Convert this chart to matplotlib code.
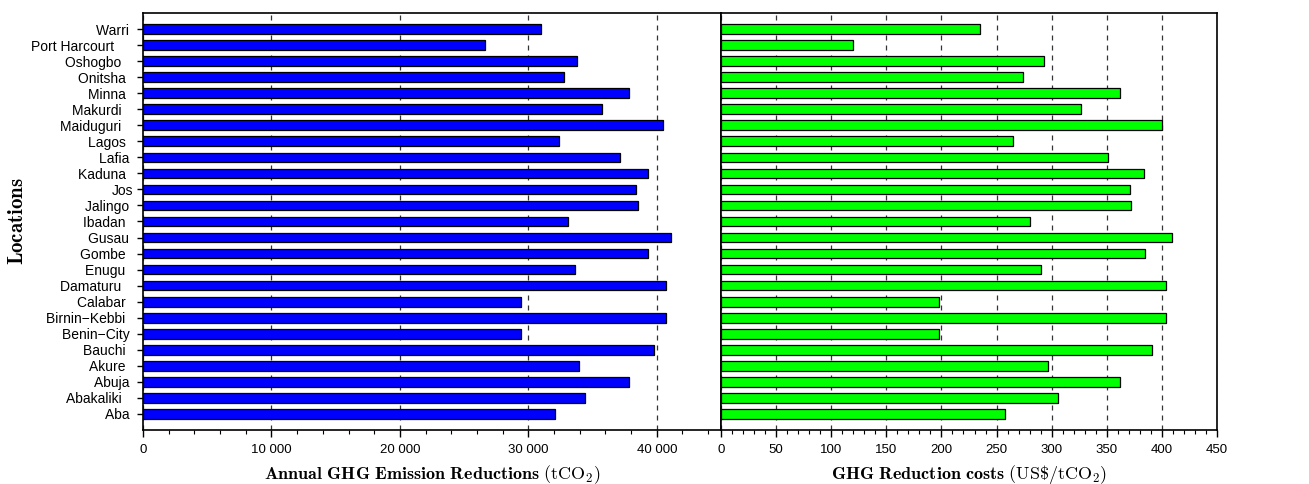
import matplotlib.pyplot as plt
from matplotlib.ticker import MultipleLocator, FuncFormatter

plt.rcParams['font.family'] = ['Liberation Sans', 'DejaVu Sans']
plt.rcParams['mathtext.fontset'] = 'cm'

# locations from bottom (Aba) to top (Warri); trailing spaces as in the original labels
locations = ['Aba ', 'Abakaliki   ', 'Abuja ', 'Akure  ', 'Bauchi  ', 'Benin\u2212City ',
             'Birnin\u2212Kebbi  ', 'Calabar  ', 'Damaturu   ', 'Enugu  ', 'Gombe  ',
             'Gusau ', 'Ibadan  ', 'Jalingo ', 'Jos', 'Kaduna  ', 'Lafia ', 'Lagos  ',
             'Maiduguri   ', 'Makurdi   ', 'Minna  ', 'Onitsha  ', 'Oshogbo   ',
             'Port Harcourt     ', 'Warri ']

# annual GHG emission reductions (tCO2)
emission_red = [32050, 34450, 37850, 33950, 39750, 29430, 40750, 29450, 40750, 33600,
                39350, 41100, 33100, 38500, 38400, 39300, 37100, 32400, 40450, 35700,
                37800, 32800, 33800, 26640, 30980]

# GHG reduction costs (US$/tCO2)
red_costs = [258, 306, 362, 297, 391, 198, 404, 198, 404, 290,
             385, 409, 280, 372, 371, 384, 351, 265, 400, 327,
             362, 274, 293, 120, 235]

y = list(range(len(locations)))

fig = plt.figure(figsize=(13.09, 4.84), dpi=100)
L, R, B, T = 143 / 1309, 1217 / 1309, 54 / 484, 471 / 484
mid = 721 / 1309
ax1 = fig.add_axes([L, B, mid - L, T - B])
ax2 = fig.add_axes([mid, B, R - mid, T - B])


def thousands(v, pos):
    return '{:,.0f}'.format(v).replace(',', ' ')


for ax, vals, col, xmax, major, minor in [
        (ax1, emission_red, '#0000ff', 45000, 10000, 2000),
        (ax2, red_costs, '#00ff00', 450, 50, 10)]:
    ax.barh(y, vals, height=0.6, color=col, edgecolor='black', linewidth=0.9, zorder=3)
    ax.set_xlim(0, xmax)
    ax.set_ylim(-1, len(locations))
    ax.xaxis.set_major_locator(MultipleLocator(major))
    ax.xaxis.set_minor_locator(MultipleLocator(minor))
    ax.grid(axis='x', which='major', linestyle=(0, (4, 4)), color='#333333',
            linewidth=0.9, zorder=1)
    ax.tick_params(axis='x', which='major', direction='out', length=5, width=1,
                   labelsize=9.5, pad=5)
    ax.tick_params(axis='x', which='minor', direction='out', length=3, width=0.8)
    for s in ax.spines.values():
        s.set_linewidth(1.2)

ax1.xaxis.set_major_formatter(FuncFormatter(thousands))
ax1.set_yticks(y)
ax1.set_yticklabels(locations)
ax1.tick_params(axis='y', direction='out', length=4, width=1, labelsize=10, pad=3)
ax1.set_xticks([0, 10000, 20000, 30000, 40000])

ax2.set_yticks([])
ax2.set_xticks(range(0, 451, 50))

ax1.set_xlabel(r'$\mathbf{Annual\ GHG\ Emission\ Reductions}\ (\mathrm{tCO}_2)$',
               fontsize=13, labelpad=5)
ax2.set_xlabel(r'$\mathbf{GHG\ Reduction\ costs}\ (\mathrm{US\$/tCO}_2)$',
               fontsize=13, labelpad=5)
fig.text(0.006, (B + T) / 2, r'$\mathbf{Locations}$', rotation=90, fontsize=15,
         va='center', ha='left')

fig.savefig('out.png', dpi=100)
